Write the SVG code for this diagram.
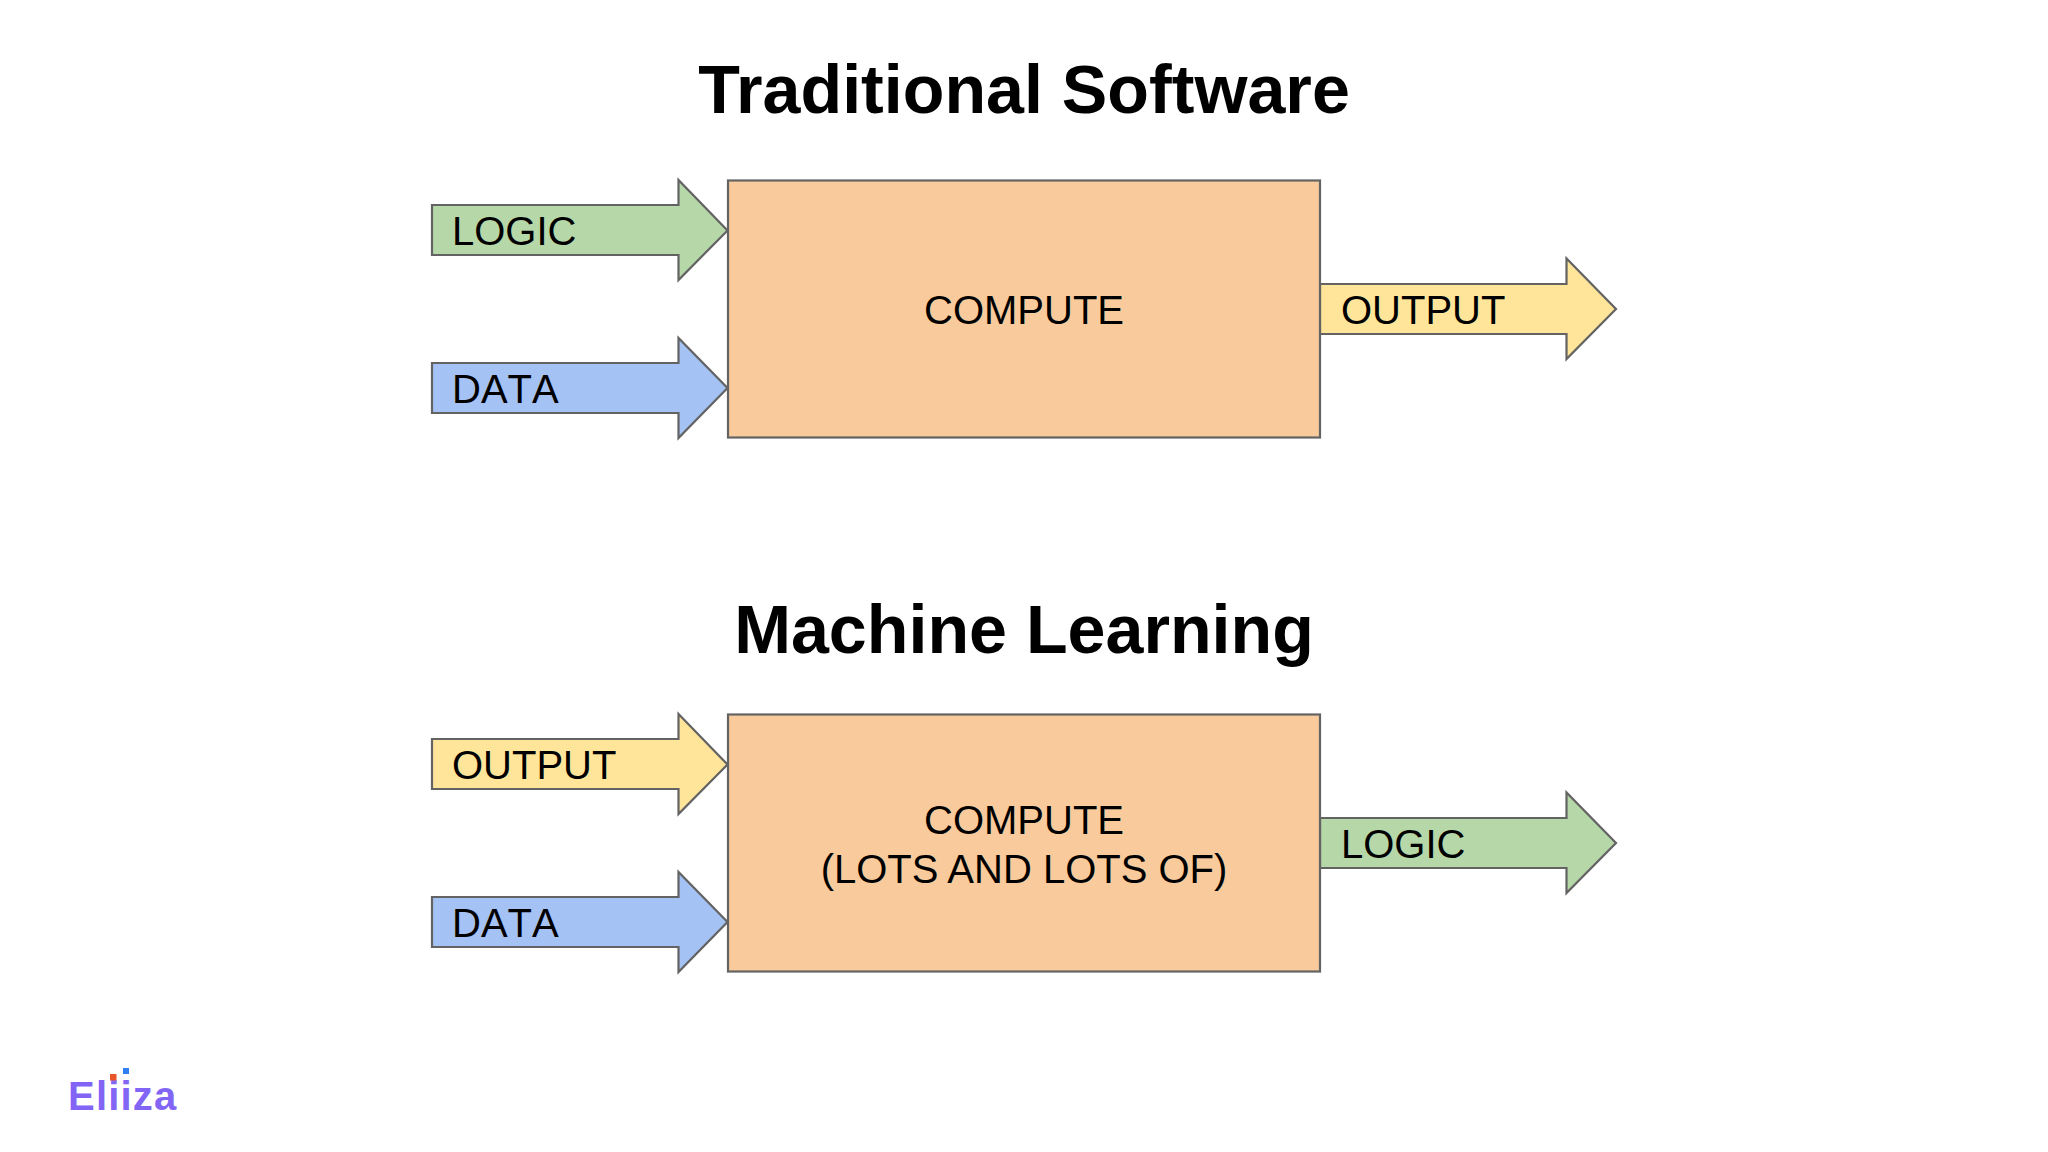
<svg xmlns="http://www.w3.org/2000/svg" width="2048" height="1152" viewBox="0 0 2048 1152">
<style>
text{font-family:"Liberation Sans",Arial,sans-serif;fill:#000}
.t{font-size:68.200px;font-weight:700;text-anchor:middle}
.l{font-size:40px;font-kerning:none}
.c{font-size:40px;text-anchor:middle}
.s{stroke:#636363;stroke-width:2.200;stroke-linejoin:miter}
.g{fill:#b6d7a8}.b{fill:#a4c2f4}.y{fill:#ffe599}.o{fill:#f9cb9c}
</style>
<rect width="2048" height="1152" fill="#fff"/>
<text class="t" x="1024" y="113">Traditional Software</text>
<text class="t" x="1024" y="653">Machine Learning</text>
<g id="connectors">
<g id="a1"><path class="s g" d="M432 205H678.500V180L727.500 230.500L678.500 280V255H432Z"/><text class="l" x="452" y="245">LOGIC</text></g>
<g id="a2"><path class="s b" d="M432 363H678.500V338L727.500 388L678.500 438V413H432Z"/><text class="l" x="452" y="403">DATA</text></g>
<g id="a3"><path class="s y" d="M1320 284H1566.500V258.500L1616 309L1566.500 359V334H1320Z"/><text class="l" x="1341" y="324">OUTPUT</text></g>
<g id="a4"><path class="s y" d="M432 739H678.500V714L727.500 764.500L678.500 814V789H432Z"/><text class="l" x="452" y="779">OUTPUT</text></g>
<g id="a5"><path class="s b" d="M432 897H678.500V872L727.500 922L678.500 972V947H432Z"/><text class="l" x="452" y="937">DATA</text></g>
<g id="a6"><path class="s g" d="M1320 818H1566.500V792.500L1616 843L1566.500 893V868H1320Z"/><text class="l" x="1341" y="858">LOGIC</text></g>
</g>
<g id="compute1"><rect class="s o" x="728" y="180.500" width="592" height="257"/><text class="c" x="1024" y="324">COMPUTE</text></g>
<g id="compute2"><rect class="s o" x="728" y="714.500" width="592" height="257"/><text class="c" x="1024" y="834">COMPUTE</text><text class="c" x="1024" y="882.500">(LOTS AND LOTS OF)</text></g>
<g id="logo">
<text x="68" y="1110" style="font-size:40px;font-weight:700;fill:#8265f5;letter-spacing:1.200px">Eliiza</text>
<rect x="110" y="1074" width="6.500" height="6.500" fill="#e8562a"/><rect x="123" y="1068" width="6" height="6" fill="#2f7ff5"/>
</g>
</svg>
